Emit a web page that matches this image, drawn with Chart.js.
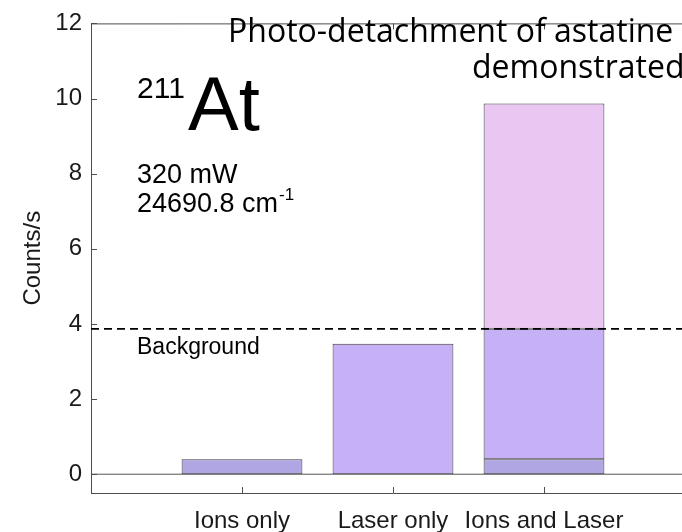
<!DOCTYPE html>
<html>
<head>
<meta charset="utf-8">
<script src="https://cdn.jsdelivr.net/npm/chart.js@4/dist/chart.umd.min.js"></script>
<style>
  html, body { margin: 0; padding: 0; background: #fff; overflow: hidden; }
</style>
</head>
<body>
<canvas id="c" width="710" height="532"></canvas>
<script>
// data
const categories = ["Ions only", "Laser only", "Ions and Laser"];
const ionCounts = [0.4, null, 0.4];        // dark lavender part
const laserCounts = [null, 3.47, 3.47];    // lavender part
const signalCounts = [null, null, 6.0];    // pink part above background
const backgroundLevel = 3.87;
const yTicks = [0, 2, 4, 6, 8, 10, 12];

// pad an empty slot on both ends so the axis runs from 0 to 4
const labels = [""].concat(categories, [""]);
const pad = (arr) => [null].concat(arr, [null]);
const flat = (v) => labels.map(() => v);

const AXIS = "#4d4d4d";
const FONT = '"Liberation Sans", Arial, sans-serif';

// inward tick marks, the box and the text annotations
const decorations = {
    id: "decorations",
    afterDraw(chart) {
        const ctx = chart.ctx;
        const area = chart.chartArea;
        const xs = chart.scales.x;
        const ys = chart.scales.y;
        ctx.save();
        ctx.strokeStyle = AXIS;
        ctx.lineWidth = 1;
        ctx.beginPath();
        ctx.moveTo(area.left, area.top + 0.5);
        ctx.lineTo(area.right, area.top + 0.5);
        ctx.lineTo(area.right, area.bottom);
        yTicks.forEach((v) => {
            const py = Math.round(ys.getPixelForValue(v)) + 0.5;
            ctx.moveTo(area.left, py);
            ctx.lineTo(area.left + 6, py);
        });
        for (let i = 1; i <= categories.length; i++) {
            const px = Math.round(xs.getPixelForValue(i)) + 0.5;
            ctx.moveTo(px, area.bottom);
            ctx.lineTo(px, area.bottom - 6);
            ctx.moveTo(px, area.top);
            ctx.lineTo(px, area.top + 6);
        }
        ctx.stroke();

        ctx.fillStyle = "#000";
        ctx.textBaseline = "alphabetic";
        ctx.textAlign = "left";
        ctx.font = "30px " + FONT;
        ctx.fillText("211", 137, 98);
        ctx.font = "76px " + FONT;
        ctx.fillText("At", 188, 130);

        ctx.font = "27px " + FONT;
        ctx.fillText("320 mW", 137, 183);
        const line2 = "24690.8 cm";
        ctx.fillText(line2, 137, 212);
        const w = ctx.measureText(line2).width;
        ctx.font = "17px " + FONT;
        ctx.fillText("-1", 137 + w + 1, 200);

        ctx.font = "23px " + FONT;
        ctx.fillText("Background", 137, 354);

        ctx.font = '32px "Open Sans", sans-serif';
        ctx.fillText("Photo-detachment of astatine", 228, 42);
        ctx.fillText("demonstrated", 472, 78);
        ctx.restore();
    },
};

const barStyle = {
    borderColor: "#3c3c3c",
    borderWidth: 1,
    borderSkipped: false,
    categoryPercentage: 1.0,
    barPercentage: 0.8,
    order: 2,
};

new Chart(document.getElementById("c"), {
    type: "bar",
    data: {
        labels: labels,
        datasets: [
            {
                type: "line",
                label: "Background",
                data: flat(backgroundLevel),
                stack: "bg",
                borderColor: "#000",
                borderWidth: 1.6,
                borderDash: [8, 5],
                pointRadius: 0,
                order: 0,
            },
            {
                type: "line",
                label: "Baseline",
                data: flat(0),
                stack: "base",
                borderColor: "#555",
                borderWidth: 1,
                pointRadius: 0,
                order: 1,
            },
            Object.assign({ label: "Ions", data: pad(ionCounts), backgroundColor: "#b0a6e3" }, barStyle),
            Object.assign({ label: "Laser", data: pad(laserCounts), backgroundColor: "#c6b1f6" }, barStyle),
            Object.assign({ label: "Signal", data: pad(signalCounts), backgroundColor: "#eac6f2" }, barStyle),
        ],
    },
    options: {
        responsive: false,
        animation: false,
        layout: { padding: { top: 15, right: 15, left: 0, bottom: 0 } },
        plugins: {
            legend: { display: false },
            tooltip: { enabled: false },
        },
        scales: {
            x: {
                stacked: true,
                offset: false,
                grid: { display: false, drawTicks: false },
                border: { display: true, color: AXIS, width: 1 },
                ticks: {
                    color: "#1a1a1a",
                    font: { family: FONT, size: 24 },
                    padding: 14,
                    maxRotation: 0,
                    autoSkip: false,
                },
                afterFit: (s) => { s.height = 39; },
            },
            y: {
                stacked: true,
                min: -0.5,
                max: 12,
                afterBuildTicks: (s) => {
                    s.ticks = yTicks.map((v) => ({ value: v }));
                },
                grid: { display: false, drawTicks: false },
                border: { display: true, color: AXIS, width: 1 },
                ticks: {
                    color: "#1a1a1a",
                    font: { family: FONT, size: 24 },
                    padding: 9,
                },
                title: {
                    display: true,
                    text: "Counts/s",
                    color: "#1a1a1a",
                    font: { family: FONT, size: 24 },
                    padding: { top: 19, bottom: 0 },
                },
                afterFit: (s) => { s.width = 91; },
            },
        },
    },
    plugins: [decorations],
});
</script>
</body>
</html>
